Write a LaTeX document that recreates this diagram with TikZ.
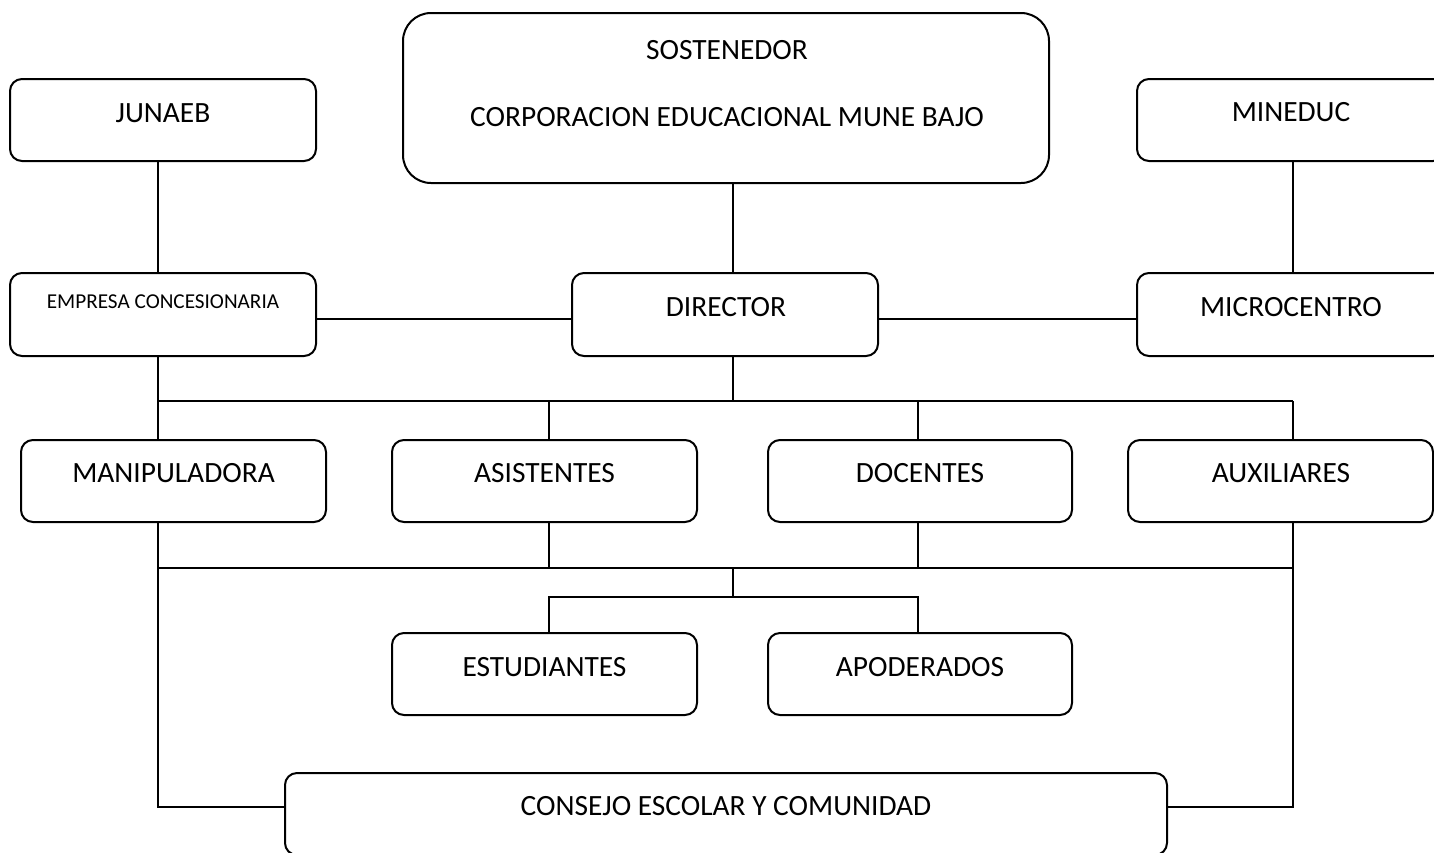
\documentclass[tikz,border=0pt]{standalone}
\usepackage{fontspec}
\setmainfont{Carlito}
\begin{document}
\begin{tikzpicture}[x=0.5pt,y=-0.5pt,
  box/.style={draw=black, line width=1pt, rounded corners=6pt, inner sep=0pt, fill=white},
  txt/.style={inner sep=0pt, font=\fontsize{14.7pt}{17pt}\selectfont},
  smalltxt/.style={inner sep=0pt, font=\fontsize{10.6pt}{12pt}\selectfont},
  conn/.style={draw=black, line width=0.9pt}]
\useasboundingbox (0,0) rectangle (1434,852);
\fill[white] (0,0) rectangle (1434,852);
\clip (0,0) rectangle (1434,852);

% boxes
\node[box, minimum width=153pt, minimum height=41pt] (junaeb) at (163,120) {};
\node[box, rounded corners=14pt, minimum width=323pt, minimum height=85pt] (sost) at (726,98) {};
\node[box, minimum width=154pt, minimum height=41pt] (mineduc) at (1291,120) {};
\node[box, minimum width=153pt, minimum height=41.5pt] (empresa) at (163,314.5) {};
\node[box, minimum width=153pt, minimum height=41.5pt] (director) at (725,314.5) {};
\node[box, minimum width=154pt, minimum height=41.5pt] (micro) at (1291,314.5) {};
\node[box, minimum width=152.5pt, minimum height=41pt] (manip) at (173.5,481) {};
\node[box, minimum width=152.5pt, minimum height=41pt] (asist) at (544.5,481) {};
\node[box, minimum width=152pt, minimum height=41pt] (docent) at (920,481) {};
\node[box, minimum width=152.5pt, minimum height=41pt] (auxil) at (1280.5,481) {};
\node[box, minimum width=152.5pt, minimum height=41pt] (estud) at (544.5,674) {};
\node[box, minimum width=152pt, minimum height=41pt] (apod) at (920,674) {};
\node[box, minimum width=441pt, minimum height=41pt] (consejo) at (726,814) {};

% texts
\node[txt] (junaebT) at (163,113) {JUNAEB};
\node[txt] (sostA) at (727,50) {SOSTENEDOR};
\node[txt] (sostB) at (727,117) {CORPORACION EDUCACIONAL MUNE BAJO};
\node[txt] (mineducT) at (1291,112) {MINEDUC};
\node[smalltxt] (empresaT) at (163,302) {EMPRESA CONCESIONARIA};
\node[txt] (directorT) at (726,307) {DIRECTOR};
\node[txt] (microT) at (1291,307) {MICROCENTRO};
\node[txt] (manipT) at (173.5,473) {MANIPULADORA};
\node[txt] (asistT) at (544.5,473) {ASISTENTES};
\node[txt] (docentT) at (920,473) {DOCENTES};
\node[txt] (auxilT) at (1281,473) {AUXILIARES};
\node[txt] (estudT) at (544.5,667) {ESTUDIANTES};
\node[txt] (apodT) at (920,667) {APODERADOS};
\node[txt] (consejoT) at (726,806) {CONSEJO ESCOLAR Y COMUNIDAD};

% guide coordinates
\coordinate (xL) at (158,0);
\coordinate (xA) at (549,0);
\coordinate (xC) at (733,0);
\coordinate (xD) at (918,0);
\coordinate (xR) at (1293,0);
\coordinate (yH) at (0,319);
\coordinate (yb1) at (0,401);
\coordinate (yb2) at (0,568);
\coordinate (yb3) at (0,597);
\coordinate (yc) at (0,807);

% connectors
\draw[conn] (junaeb.south -| xL) -- (empresa.north -| xL);
\draw[conn] (sost.south -| xC) -- (director.north -| xC);
\draw[conn] (mineduc.south -| xR) -- (micro.north -| xR);
\draw[conn] (empresa.east |- yH) -- (director.west |- yH);
\draw[conn] (director.east |- yH) -- (micro.west |- yH);
\draw[conn] (director.south -| xC) -- (xC |- yb1);
\draw[conn] (empresa.south -| xL) -- (manip.north -| xL);
\draw[conn] (xL |- yb1) -- (xR |- yb1);
\draw[conn] (xA |- yb1) -- (asist.north -| xA);
\draw[conn] (xD |- yb1) -- (docent.north -| xD);
\draw[conn] (xR |- yb1) -- (auxil.north -| xR);
\draw[conn] (manip.south -| xL) -- (xL |- yc) -- (consejo.west |- yc);
\draw[conn] (auxil.south -| xR) -- (xR |- yc) -- (consejo.east |- yc);
\draw[conn] (asist.south -| xA) -- (xA |- yb2);
\draw[conn] (docent.south -| xD) -- (xD |- yb2);
\draw[conn] (xL |- yb2) -- (xR |- yb2);
\draw[conn] (xC |- yb2) -- (xC |- yb3);
\draw[conn] (estud.north -| xA) -- (xA |- yb3) -- (xD |- yb3) -- (apod.north -| xD);
\end{tikzpicture}
\end{document}
